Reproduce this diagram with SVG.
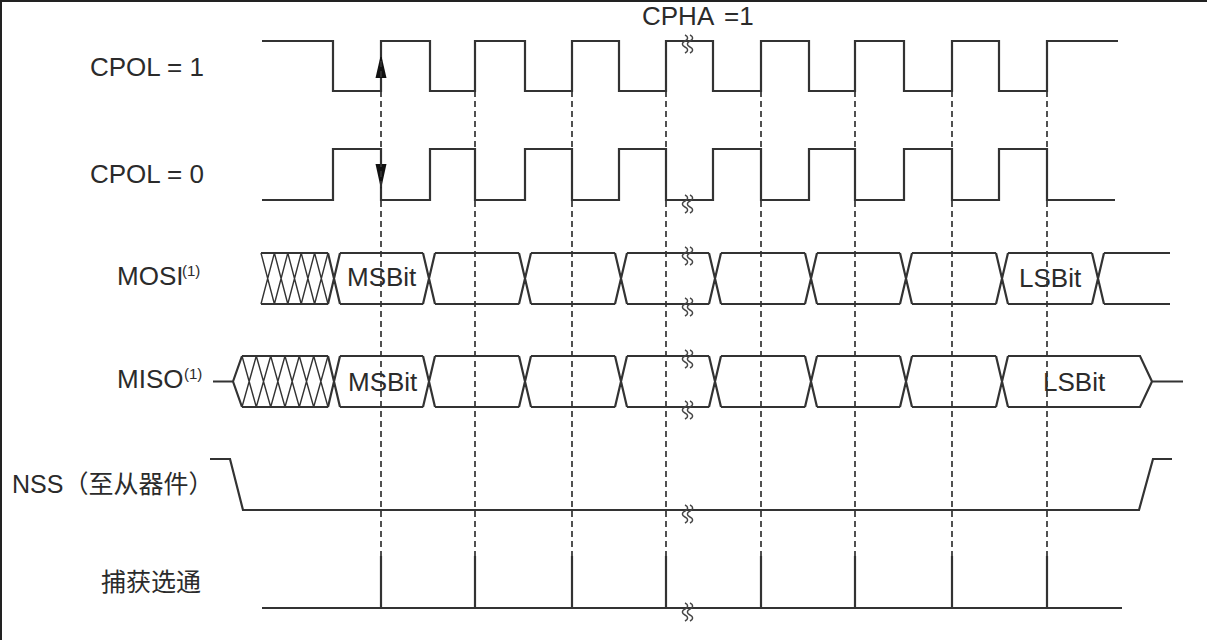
<svg xmlns="http://www.w3.org/2000/svg" xmlns:xlink="http://www.w3.org/1999/xlink" width="1207" height="640" viewBox="0 0 1207 640">
<style>
.sig{fill:none;stroke:#333;stroke-width:2.2;stroke-linejoin:miter}
.hatch{fill:none;stroke:#333;stroke-width:1.4}
.dash{fill:none;stroke:#333;stroke-width:1.7;stroke-dasharray:6 4}
.brk{fill:none;stroke:#444;stroke-width:1.5}
.lbl{font-family:"Liberation Sans","Noto Sans CJK SC",sans-serif;font-size:26px;fill:#2b2b2b}
.cjk{font-family:"Liberation Sans","Noto Sans CJK SC",sans-serif;font-size:25px;fill:#2b2b2b}
.sup{font-family:"Liberation Sans",sans-serif;font-size:15px;fill:#2b2b2b}
.arr{fill:#111}
</style>
<defs>
<g id="brkmark">
<path class="brk" d="M-5,-9 c3.5,1.7 3.5,4 0,6 c-3.5,1.7 -3.5,4 0,6 c3.5,1.7 3.5,4 0,6"/>
<path class="brk" d="M0,-9 c3.5,1.7 3.5,4 0,6 c-3.5,1.7 -3.5,4 0,6 c3.5,1.7 3.5,4 0,6"/>
</g>
</defs>
<rect x="0" y="0" width="1207" height="640" fill="#fff"/>
<rect x="0" y="0" width="1207" height="2" fill="#222"/>
<rect x="0" y="0" width="2" height="640" fill="#222"/>

<text class="lbl" x="642" y="25" word-spacing="4">CPHA =1</text>

<g id="cpol1">
<text class="lbl" x="90" y="76">CPOL = 1</text>
<path class="sig" d="M262,41 H333 V91 H381 V41 H430 V91 H475 V41 H525 V91 H572 V41 H619 V91 H666 V41 H713 V91 H761 V41 H809 V91 H855 V41 H904 V91 H952 V41 H999 V91 H1047 V41 H1118"/>
<polygon class="arr" points="381,54 375.5,78 386.5,78"/>
</g>

<g id="cpol0">
<text class="lbl" x="90" y="183">CPOL = 0</text>
<path class="sig" d="M262,200 H333 V149 H381 V200 H430 V149 H475 V200 H525 V149 H572 V200 H619 V149 H666 V200 H713 V149 H761 V200 H809 V149 H855 V200 H904 V149 H952 V200 H999 V149 H1047 V200 H1115"/>
<polygon class="arr" points="381,189 375.5,164 386.5,164"/>
</g>

<g id="mosi">
<text class="lbl" x="117" y="285">MOSI</text><text class="sup" x="182" y="276">(1)</text>
<path class="hatch" d="M261,253 L274.4,304 M274.4,253 L287.8,304 M287.8,253 L301.2,304 M301.2,253 L314.6,304 M314.6,253 L328,304 M261,304 L274.4,253 M274.4,304 L287.8,253 M287.8,304 L301.2,253 M301.2,304 L314.6,253 M314.6,304 L328,253"/>
<path class="sig" d="M261,253 H328 M340,253 H423 M435,253 H519 M531,253 H615 M627,253 H709 M721,253 H805 M817,253 H900 M912,253 H996 M1008,253 H1092 M1104,253 H1170 M261,304 H328 M340,304 H423 M435,304 H519 M531,304 H615 M627,304 H709 M721,304 H805 M817,304 H900 M912,304 H996 M1008,304 H1092 M1104,304 H1170 M328,253 L340,304 M328,304 L340,253 M423,253 L435,304 M423,304 L435,253 M519,253 L531,304 M519,304 L531,253 M615,253 L627,304 M615,304 L627,253 M709,253 L721,304 M709,304 L721,253 M805,253 L817,304 M805,304 L817,253 M900,253 L912,304 M900,304 L912,253 M996,253 L1008,304 M996,304 L1008,253 M1092,253 L1104,304 M1092,304 L1104,253"/>
<text class="lbl" x="347" y="286">MSBit</text>
<text class="lbl" x="1019" y="287">LSBit</text>
</g>

<g id="miso">
<text class="lbl" x="117" y="388">MISO</text><text class="sup" x="184" y="379">(1)</text>
<path class="hatch" d="M242,356 L256.3,407 M256.3,356 L270.7,407 M270.7,356 L285,407 M285,356 L299.3,407 M299.3,356 L313.7,407 M313.7,356 L328,407 M242,407 L256.3,356 M256.3,407 L270.7,356 M270.7,407 L285,356 M285,407 L299.3,356 M299.3,407 L313.7,356 M313.7,407 L328,356"/>
<path class="sig" d="M213,381.5 H233 L242,356 M233,381.5 L242,407 M242,356 H328 M340,356 H423 M435,356 H519 M531,356 H615 M627,356 H709 M721,356 H805 M817,356 H900 M912,356 H996 M1008,356 H1140 L1152,381.5 L1140,407 H1008 M242,407 H328 M340,407 H423 M435,407 H519 M531,407 H615 M627,407 H709 M721,407 H805 M817,407 H900 M912,407 H996 M1152,381.5 H1183 M328,356 L340,407 M328,407 L340,356 M423,356 L435,407 M423,407 L435,356 M519,356 L531,407 M519,407 L531,356 M615,356 L627,407 M615,407 L627,356 M709,356 L721,407 M709,407 L721,356 M805,356 L817,407 M805,407 L817,356 M900,356 L912,407 M900,407 L912,356 M996,356 L1008,407 M996,407 L1008,356"/>
<text class="lbl" x="348" y="391">MSBit</text>
<text class="lbl" x="1043" y="391">LSBit</text>
</g>

<g id="nss">
<text class="cjk" x="12" y="493">NSS（至从器件）</text>
<path class="sig" d="M210,459 H230 L243,510 H1139 L1153,459 H1172"/>
</g>

<g id="strobe">
<text class="cjk" x="101" y="591">捕获选通</text>
<path class="sig" d="M262,608 H1122 M381,556 V608 M475,556 V608 M572,556 V608 M666,556 V608 M761,556 V608 M855,556 V608 M952,556 V608 M1047,556 V608"/>
</g>

<g id="connectors">
<path class="dash" d="M381,41 V556 M475,41 V556 M572,41 V556 M666,41 V556 M761,41 V556 M855,41 V556 M952,41 V556 M1047,41 V556"/>
</g>

<g id="breaks">
<use xlink:href="#brkmark" x="690" y="44"/>
<use xlink:href="#brkmark" x="690" y="204"/>
<use xlink:href="#brkmark" x="690" y="256"/>
<use xlink:href="#brkmark" x="690" y="307"/>
<use xlink:href="#brkmark" x="690" y="359"/>
<use xlink:href="#brkmark" x="690" y="410"/>
<use xlink:href="#brkmark" x="690" y="514"/>
<use xlink:href="#brkmark" x="690" y="612"/>
</g>
</svg>
